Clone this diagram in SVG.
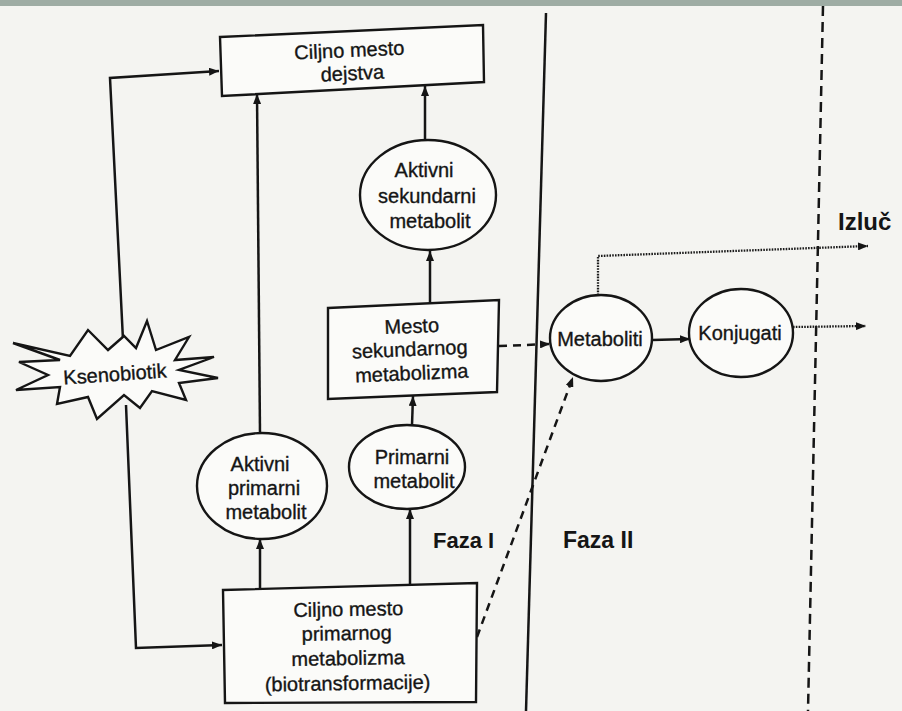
<svg xmlns="http://www.w3.org/2000/svg" width="902" height="711" viewBox="0 0 902 711">
<defs>
<style>
.bg{fill:#f4f4f1}
.node{fill:#fbfbf9;stroke:#151515;stroke-width:2.4}
.t{font-family:"Liberation Sans",Arial,Helvetica,sans-serif;font-size:20px;fill:#151515;stroke:#151515;stroke-width:0.35;text-anchor:middle}
.b{font-family:"Liberation Sans",Arial,Helvetica,sans-serif;font-weight:bold;fill:#151515}
.ln{fill:none;stroke:#151515;stroke-width:2.5}
.dash{fill:none;stroke:#151515;stroke-width:2.5;stroke-dasharray:8 6}
.dot{fill:none;stroke:#1c1c1c;stroke-width:2.3;stroke-dasharray:1.6 1.2}
</style>
<marker id="ah" markerUnits="userSpaceOnUse" markerWidth="10" markerHeight="8" refX="10" refY="4" orient="auto">
<path d="M0,0 L10,4 L0,8 Z" fill="#151515"/>
</marker>
</defs>
<rect class="bg" x="0" y="0" width="902" height="711"/>
<rect x="0" y="0" width="902" height="6" fill="#9eaca4"/>

<g id="dividers">
<path class="ln" d="M546,13 L526,711" stroke-width="3"/>
<path class="ln" d="M823,6 L808,711" stroke-width="3.2" stroke-dasharray="10 6"/>
</g>

<g id="connectors">
<path class="ln" d="M123,340 L110,78 L219,71" marker-end="url(#ah)"/>
<path class="ln" d="M126,405 L136,648 L222,645" marker-end="url(#ah)"/>
<path class="ln" d="M260,589 L260,539" marker-end="url(#ah)"/>
<path class="ln" d="M260,433 L257,94" marker-end="url(#ah)"/>
<path class="ln" d="M410,585 L410,509" marker-end="url(#ah)"/>
<path class="ln" d="M412,425 L413,396" marker-end="url(#ah)"/>
<path class="ln" d="M430,303 L430,251" marker-end="url(#ah)"/>
<path class="ln" d="M425,140 L425,86" marker-end="url(#ah)"/>
<path class="dash" d="M499,346 L550,344" marker-end="url(#ah)"/>
<path class="dash" d="M477,637 L573,377" marker-end="url(#ah)"/>
<path class="ln" d="M652,340 L690,339" marker-end="url(#ah)"/>
<path class="dot" d="M793,327 L866,326" marker-end="url(#ah)"/>
<path class="dot" d="M598,295 L598,256 L868,246" marker-end="url(#ah)"/>
</g>

<g id="n-dejstvo">
<polygon class="node" points="220,37 483,25 484,82 222,96"/>
<g transform="rotate(-2.6 352 66)">
<text class="t" x="350" y="57" font-size="21.5">Ciljno mesto</text>
<text class="t" x="352" y="80" font-size="21.5">dejstva</text>
</g>
</g>

<g id="n-aktivni-sekundarni">
<ellipse class="node" cx="428" cy="195" rx="68" ry="55"/>
<text class="t" x="424" y="177">Aktivni</text>
<text class="t" x="427" y="203">sekundarni</text>
<text class="t" x="430" y="228">metabolit</text>
</g>

<g id="n-mesto-sekundarnog">
<polygon class="node" points="328,308 499,300 497,392 328,399"/>
<g transform="rotate(-2.4 412 355)">
<text class="t" x="413" y="333">Mesto</text>
<text class="t" x="410" y="356">sekundarnog</text>
<text class="t" x="411" y="380">metabolizma</text>
</g>
</g>

<g id="n-ksenobiotik">
<polygon class="node" points="13,343 70,356 88,330 108,350 124,336 136,348 147,321 156,350 189,337 175,360 214,357 179,370 218,378 179,383 186,400 152,391 140,408 124,395 97,419 88,397 57,404 60,387 16,390 48,375 19,362 60,360"/>
<text class="t" x="115" y="381" font-size="21" transform="rotate(-4 115 375)">Ksenobiotik</text>
</g>

<g id="n-aktivni-primarni">
<ellipse class="node" cx="262" cy="486" rx="65" ry="53"/>
<text class="t" x="260" y="471">Aktivni</text>
<text class="t" x="264" y="495">primarni</text>
<text class="t" x="266" y="519">metabolit</text>
</g>

<g id="n-primarni">
<ellipse class="node" cx="407" cy="467" rx="58" ry="42"/>
<text class="t" x="412" y="464">Primarni</text>
<text class="t" x="414" y="488">metabolit</text>
</g>

<g id="n-ciljno-primarnog">
<polygon class="node" points="223,590 477,583 476,702 225,703"/>
<g transform="rotate(-1 349 650)">
<text class="t" x="349" y="616">Ciljno mesto</text>
<text class="t" x="347" y="640">primarnog</text>
<text class="t" x="348" y="665">metabolizma</text>
<text class="t" x="347" y="690">(biotransformacije)</text>
</g>
</g>

<g id="n-metaboliti">
<ellipse class="node" cx="601" cy="338" rx="51" ry="43"/>
<text class="t" x="600" y="346">Metaboliti</text>
</g>

<g id="n-konjugati">
<ellipse class="node" cx="741" cy="333" rx="52" ry="44"/>
<text class="t" x="740" y="340">Konjugati</text>
</g>

<g id="labels">
<text class="b" x="433" y="548" font-size="22">Faza I</text>
<text class="b" x="563" y="548" font-size="23">Faza II</text>
<text class="b" x="838" y="230" font-size="24">Izluč</text>
</g>
</svg>
